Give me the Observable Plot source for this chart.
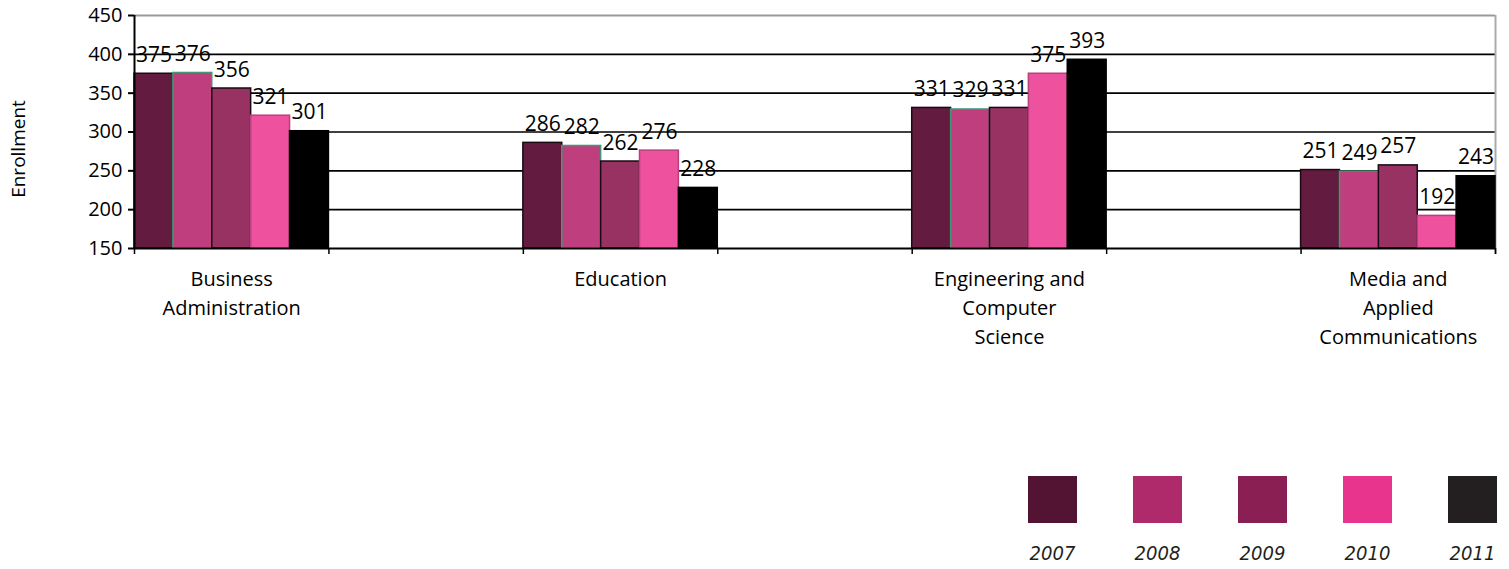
<!DOCTYPE html>
<html>
<head>
<meta charset="utf-8">
<script src="https://cdn.jsdelivr.net/npm/d3@7"></script>
<script src="https://cdn.jsdelivr.net/npm/@observablehq/plot@0.6"></script>
<style>
  body { margin: 0; background: #fff; }
  #chart { position: relative; width: 1509px; height: 569px; }
  .legend { position: absolute; top: 476px; left: 0; width: 1509px; height: 93px; }
  .item { position: absolute; width: 49px; }
  .sw { width: 49px; height: 47px; }
  .lab { margin-top: 18px; margin-left: -10px; margin-right: -10px; text-align: center; font-family: "Liberation Sans Narrow", "DejaVu Sans Condensed", sans-serif; font-style: italic; font-size: 20px; color: #231f20; }
</style>
</head>
<body>
<div id="chart"></div>
<script>
const categories = ["Business\nAdministration", "Education", "Engineering and\nComputer\nScience", "Media and\nApplied\nCommunications"];
const years = ["2007", "2008", "2009", "2010", "2011"];
const v2007 = [375, 286, 331, 251];
const v2008 = [376, 282, 329, 249];
const v2009 = [356, 262, 331, 257];
const v2010 = [321, 276, 375, 192];
const v2011 = [301, 228, 393, 243];
const yTicks = [150, 200, 250, 300, 350, 400, 450];

const barFill = ["#631c3f", "#bf3f7e", "#973262", "#ee519e", "#000000"];
const barStroke = ["#1a0a12", "#3f9a72", "#1a0a12", "#b8407e", "#000000"];
const legendFill = ["#521432", "#af2a6b", "#891f53", "#e8348d", "#231f20"];

const series = [v2007, v2008, v2009, v2010, v2011];
// each category occupies one slot, with an empty slot between categories
const rows = [];
categories.forEach((c, ci) => {
  series.forEach((vals, yi) => {
    rows.push({cat: c, slot: ci * 2, year: years[yi], yi, value: vals[ci]});
  });
});
const cats = categories.map((c, ci) => ({cat: c, slot: ci * 2}));
const slotEdges = d3.range(0, categories.length * 2);

const font = "'Open Sans', 'DejaVu Sans', sans-serif";

const plot = Plot.plot({
  width: 1509,
  height: 360,
  marginLeft: 134,
  marginRight: 14,
  marginTop: 15,
  marginBottom: 112,
  style: {fontFamily: font, fontSize: "20px", color: "#000", background: "#fff"},
  x: {type: "linear", domain: [0, categories.length * 2 - 1], axis: null},
  y: {domain: [150, 450], axis: null},
  marks: [
    Plot.ruleY(yTicks.slice(1, -1), {stroke: "#000", strokeWidth: 1.6}),
    Plot.ruleY([450], {stroke: "#999", strokeWidth: 2}),
    Plot.ruleX([categories.length * 2 - 1], {stroke: "#aaa", strokeWidth: 2}),
    Plot.rectY(rows, {
      x1: d => d.slot + d.yi / 5,
      x2: d => d.slot + (d.yi + 1) / 5,
      y1: 150,
      y2: "value",
      fill: d => barFill[d.yi],
      stroke: d => barStroke[d.yi],
      strokeWidth: 1.5
    }),
    Plot.text(rows, {
      x: d => d.slot + (d.yi + 0.5) / 5,
      y: "value",
      text: d => String(d.value),
      lineAnchor: "bottom",
      dy: -12,
      fontSize: 21,
      fill: "#000"
    }),
    Plot.ruleY([150], {stroke: "#000", strokeWidth: 2}),
    Plot.ruleX([0], {stroke: "#000", strokeWidth: 2}),
    Plot.axisY({ticks: yTicks, tickSize: 6, tickPadding: 6, fontSize: 20, label: null, stroke: "#000", strokeWidth: 2}),
    Plot.axisX({ticks: slotEdges.concat([categories.length * 2 - 1]), tickSize: 6, tickFormat: () => "", label: null, stroke: "#000", strokeWidth: 1.5}),
    Plot.text(cats, {
      x: d => d.slot + 0.5,
      y: 150,
      text: "cat",
      lineAnchor: "top",
      dy: 17,
      lineHeight: 1.45,
      fontSize: 20,
      fill: "#000"
    }),
    Plot.text(["Enrollment"], {
      frameAnchor: "left",
      textAnchor: "middle",
      dx: -116,
      dy: 17,
      rotate: -90,
      fontSize: 19,
      fill: "#000"
    })
  ]
});

const chart = document.getElementById("chart");
chart.appendChild(plot);

const legend = document.createElement("div");
legend.className = "legend";
const legendLeft = [1028, 1133, 1238, 1343, 1448];
years.forEach((y, i) => {
  const it = document.createElement("div");
  it.className = "item";
  it.style.left = legendLeft[i] + "px";
  const sw = document.createElement("div");
  sw.className = "sw";
  sw.style.background = legendFill[i];
  const lab = document.createElement("div");
  lab.className = "lab";
  lab.textContent = y;
  it.appendChild(sw);
  it.appendChild(lab);
  legend.appendChild(it);
});
chart.appendChild(legend);
</script>
</body>
</html>
